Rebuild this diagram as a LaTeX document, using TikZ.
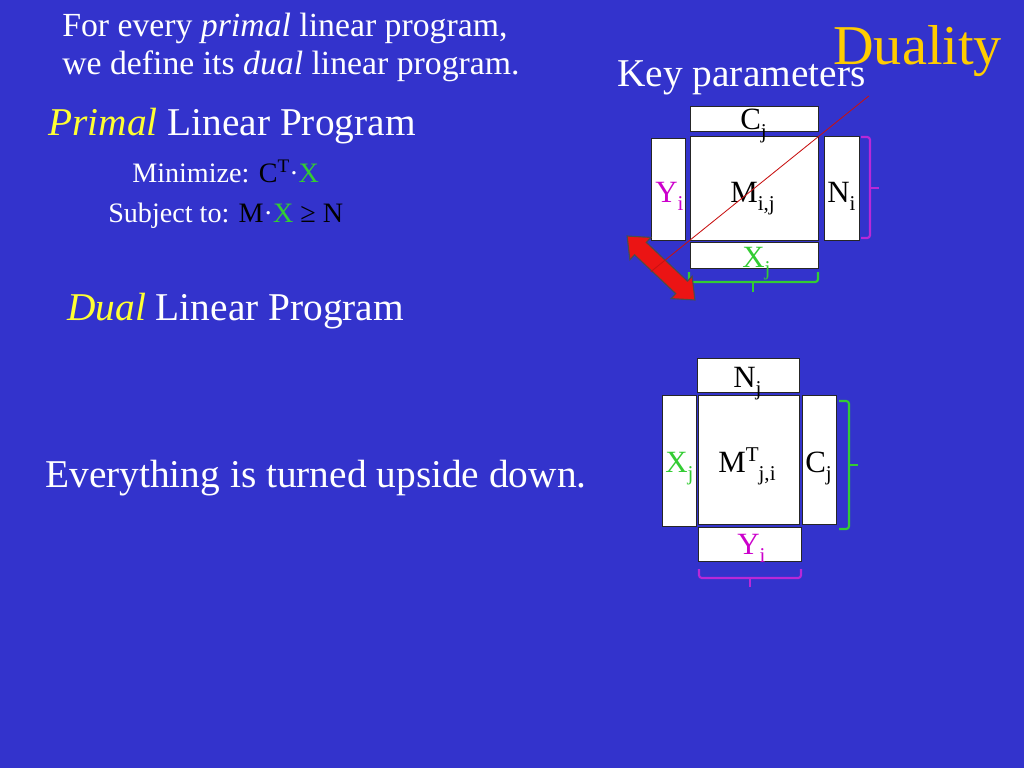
\documentclass[tikz,border=0pt]{standalone}
\usepackage{fontspec}
\setmainfont{Liberation Serif}
\usetikzlibrary{calc,shapes.arrows}
\definecolor{slide}{RGB}{51,51,204}
\definecolor{dyellow}{RGB}{255,204,0}
\definecolor{pyellow}{RGB}{255,255,51}
\definecolor{vgreen}{RGB}{51,204,51}
\definecolor{vmagenta}{RGB}{204,0,204}
\definecolor{vpurple}{RGB}{185,40,215}
\definecolor{vred}{RGB}{235,20,20}
\newcommand\lo[1]{\raisebox{-0.26em}{\scalebox{0.68}{#1}}}
\newcommand\hi[1]{\raisebox{0.33em}{\scalebox{0.68}{#1}}}
\tikzset{ box/.style = { rectangle
                       , draw       = black!85
                       , fill       = white
                       , line width = 0.7pt
                       , inner sep  = 0pt
                       },
          txt/.style = { anchor    = base west
                       , inner sep = 0pt
                       , text      = white
                       },
          lbl/.style = { anchor    = base west
                       , inner sep = 0pt
                       , text      = black
                       , font      = \fontsize{22}{26}\selectfont
                       },
        brace/.style = { line width     = 1.5pt
                       , rounded corners = 2pt
                       }
        }

\begin{document}
\begin{tikzpicture}[x=0.025cm, y=-0.025cm]
    \useasboundingbox (0,0) rectangle (1024,768);
    \fill[slide] (0,0) rectangle (1024,768);

    % texts on the left
    \node[txt, font=\fontsize{24}{28}\selectfont] (intro1) at (62,37)
        {For every \textit{primal} linear program,};
    \node[txt, font=\fontsize{24}{28}\selectfont] (intro2) at (62,75)
        {we define its \textit{dual} linear program.};
    \node[txt, text=dyellow, font=\fontsize{40}{44}\selectfont] (title) at (833,65) {Duality};
    \node[txt, font=\fontsize{28}{32}\selectfont] (keys) at (617,87) {Key parameters};
    \node[txt, font=\fontsize{28}{32}\selectfont] (primal) at (48,136)
        {\textcolor{pyellow}{\textit{Primal}} Linear Program};
    \node[txt, font=\fontsize{20}{24}\selectfont] (minimize) at (132,182)
        {Minimize: \textcolor{black}{C\hi{T}}·\textcolor{vgreen}{X}};
    \node[txt, font=\fontsize{20}{24}\selectfont] (subject) at (108,222)
        {Subject to: \textcolor{black}{M}·\textcolor{vgreen}{X} \textcolor{black}{≥ N}};
    \node[txt, font=\fontsize{28}{32}\selectfont] (dual) at (67,320)
        {\textcolor{pyellow}{\textit{Dual}} Linear Program};
    \node[txt, font=\fontsize{28}{32}\selectfont] (upside) at (45,487)
        {Everything is turned upside down.};

    % primal boxes
    \node[box, minimum width=3.2cm,   minimum height=0.625cm] (c1) at (754,118.5) {};
    \node[box, minimum width=3.2cm,   minimum height=2.575cm] (m1) at (754,188.5) {};
    \node[box, minimum width=0.85cm,  minimum height=2.525cm] (y1) at (668,189.5) {};
    \node[box, minimum width=0.875cm, minimum height=2.575cm] (n1) at (841.5,188.5) {};
    \node[box, minimum width=3.2cm,   minimum height=0.65cm]  (x1) at (754,255) {};
    \draw[brace, vpurple] (861,137) -- (870,137) -- (870,238) -- (861,238);
    \draw[brace, vpurple] (870,188) -- (879,188);
    \draw[brace, vgreen] (689,272) -- (689,282) -- (818,282) -- (818,272);
    \draw[brace, vgreen] (753,282) -- (753,292);

    \node[double arrow, fill=vred, draw=black!70, line width=0.8pt, rotate=-43.3,
          inner sep=0pt, inner ysep=0.2cm, minimum height=2.33cm,
          double arrow head extend=0.17cm, double arrow tip angle=80] (swap) at (661,268) {};

    \node[lbl] (cj1) at (740,130) {C\lo{j}};
    \node[lbl] (mij1) at (730,202) {M\lo{i,j}};
    \node[lbl, text=vmagenta] (yi1) at (655,202) {Y\lo{i}};
    \node[lbl] (ni1) at (827,202) {N\lo{i}};
    \node[lbl, text=vgreen] (xj1) at (742,267) {X\lo{j}};
    \draw[vred!85!black, line width=0.6pt]
        ($(m1.south west)!-0.3!(m1.north east)$) -- ($(m1.south west)!1.39!(m1.north east)$);

    % dual boxes
    \node[box, minimum width=2.55cm,  minimum height=0.85cm] (n2) at (748,375) {};
    \node[box, minimum width=2.525cm, minimum height=3.2cm]  (m2) at (748.5,460) {};
    \node[box, minimum width=0.85cm,  minimum height=3.25cm] (x2) at (679,461) {};
    \node[box, minimum width=0.85cm,  minimum height=3.2cm]  (c2) at (819,460) {};
    \node[box, minimum width=2.575cm, minimum height=0.85cm] (y2) at (749.5,544) {};
    \draw[brace, vgreen] (839,401) -- (849,401) -- (849,529) -- (839,529);
    \draw[brace, vgreen] (849,465) -- (858,465);
    \draw[brace, vpurple] (699,569) -- (699,578) -- (801,578) -- (801,569);
    \draw[brace, vpurple] (750,578) -- (750,587);

    \node[lbl] (nj2) at (733,387) {N\lo{j}};
    \node[lbl] (mji2) at (718,472) {M\hi{T}\lo{j,i}};
    \node[lbl, text=vgreen] (xj2) at (665,472) {X\lo{j}};
    \node[lbl] (cj2) at (805,472) {C\lo{j}};
    \node[lbl, text=vmagenta] (yi2) at (737,554) {Y\lo{i}};
\end{tikzpicture}
\end{document}
